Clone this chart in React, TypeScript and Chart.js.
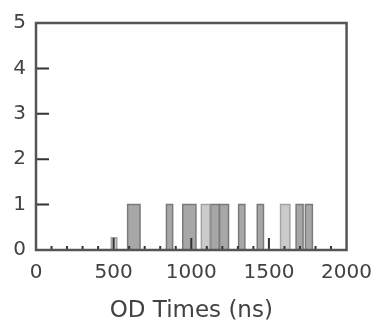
import React, { useEffect, useRef } from "react";
import { Chart, registerables } from "chart.js";

Chart.register(...registerables);

// Histogram bins of optical-delay times (ns): each bin spans [start, end] with a count.
const binStarts = [485, 590, 840, 945, 1065, 1125, 1182, 1305, 1425, 1575, 1675, 1735];
const binEnds = [520, 670, 880, 1030, 1120, 1180, 1240, 1345, 1465, 1635, 1720, 1780];
const binCounts = [0.27, 1, 1, 1, 1, 1, 1, 1, 1, 1, 1, 1];

// Fill shade for each bin (0 = light, 1 = medium)
const binShade = [0, 1, 1, 1, 0, 1, 1, 1, 1, 0, 1, 1];

const xTickLabels = [0, 500, 1000, 1500, 2000];
const yTickLabels = [0, 1, 2, 3, 4, 5];
const xMajorTicks = [500, 1000, 1500];
const xMinorTicks = [100, 200, 300, 400, 600, 700, 800, 900, 1100, 1200, 1300, 1400, 1600, 1700, 1800, 1900];
const yInnerTicks = [1, 2, 3, 4];

const FONT = "'DejaVu Sans', 'Liberation Sans', Arial, sans-serif";
const TEXT = "#424242";

const fills = ["#cbcbcb", "#a7a7a7"];
const edges = ["#a3a3a3", "#7a7a7a"];

// Draws the plot frame and the inward-facing tick marks.
const frameAndTicks = {
  id: "frameAndTicks",
  afterDatasetsDraw(chart: any) {
    const { ctx, chartArea: a, scales } = chart;
    const x = scales.x;
    const y = scales.y;
    ctx.save();
    ctx.strokeStyle = "#333";
    ctx.lineCap = "butt";
    ctx.lineWidth = 2;
    ctx.beginPath();
    for (const v of xMinorTicks) {
      const px = x.getPixelForValue(v);
      ctx.moveTo(px, a.bottom);
      ctx.lineTo(px, a.bottom - 4);
    }
    for (const v of xMajorTicks) {
      const px = x.getPixelForValue(v);
      ctx.moveTo(px, a.bottom);
      ctx.lineTo(px, a.bottom - 12);
    }
    for (const v of yInnerTicks) {
      const py = y.getPixelForValue(v);
      ctx.moveTo(a.left, py);
      ctx.lineTo(a.left + 13, py);
    }
    ctx.stroke();
    ctx.strokeStyle = "#555";
    ctx.lineWidth = 2.5;
    ctx.strokeRect(a.left, a.top, a.right - a.left, a.bottom - a.top);
    ctx.restore();
  },
};

export default function App() {
  const canvasRef = useRef<HTMLCanvasElement | null>(null);

  useEffect(() => {
    const canvas = canvasRef.current;
    if (!canvas) return;

    const datasets = binStarts.map((s, i) => {
      const e = binEnds[i];
      const c = binCounts[i];
      return {
        data: [
          { x: s, y: 0 },
          { x: s, y: c },
          { x: e, y: c },
          { x: e, y: 0 },
        ],
        fill: "origin",
        backgroundColor: fills[binShade[i]],
        borderColor: edges[binShade[i]],
        borderWidth: 1.5,
        pointRadius: 0,
        tension: 0,
      };
    });

    const chart = new Chart(canvas, {
      type: "line",
      data: { datasets: datasets as any },
      plugins: [frameAndTicks],
      options: {
        animation: false,
        responsive: false,
        events: [],
        layout: { padding: { left: 0, top: 23, right: 34, bottom: 0 } },
        plugins: { legend: { display: false }, tooltip: { enabled: false } },
        scales: {
          x: {
            type: "linear",
            min: 0,
            max: 2000,
            afterBuildTicks: (scale: any) => {
              scale.ticks = xTickLabels.map((v) => ({ value: v }));
            },
            afterFit: (scale: any) => {
              scale.height = 77;
            },
            grid: { display: false, drawTicks: false },
            border: { display: false },
            ticks: {
              font: { family: FONT, size: 20 },
              color: TEXT,
              padding: 11,
              maxRotation: 0,
              autoSkip: false,
              callback: (v: any) => String(v),
            },
            title: {
              display: true,
              text: "OD Times (ns)",
              font: { family: FONT, size: 23 },
              color: TEXT,
              padding: { top: 0, bottom: 2 },
            },
          },
          y: {
            type: "linear",
            min: 0,
            max: 5,
            afterBuildTicks: (scale: any) => {
              scale.ticks = yTickLabels.map((v) => ({ value: v }));
            },
            afterFit: (scale: any) => {
              scale.width = 36;
            },
            grid: { display: false, drawTicks: false },
            border: { display: false },
            ticks: {
              font: { family: FONT, size: 20 },
              color: TEXT,
              padding: 10,
              callback: (v: any) => String(v),
            },
          },
        },
      },
    });

    return () => chart.destroy();
  }, []);

  return (
    <div style={{ position: "fixed", left: 0, top: 0, width: 383, height: 327, background: "#fff" }}>
      <canvas ref={canvasRef} width={383} height={327} />
    </div>
  );
}
